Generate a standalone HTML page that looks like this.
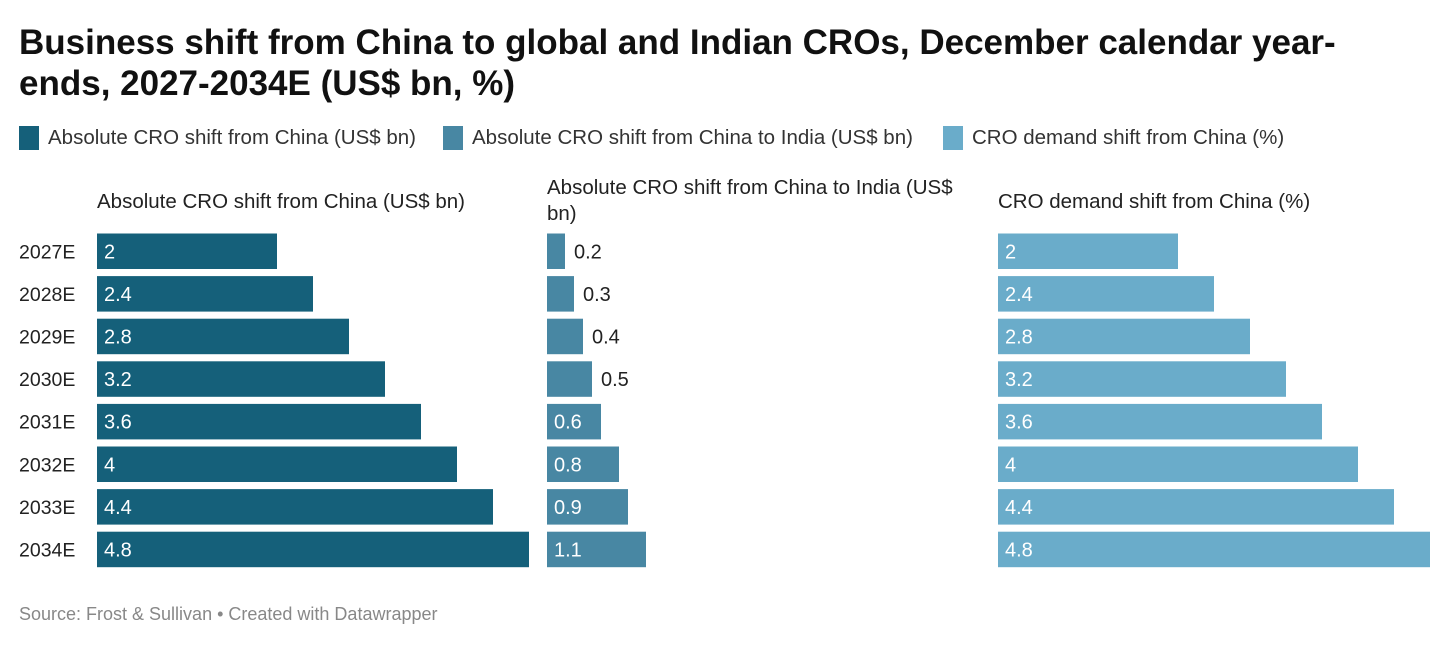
<!DOCTYPE html>
<html><head><meta charset="utf-8"><style>
body{margin:0;width:1456px;height:646px;background:#fff;font-family:"Liberation Sans",Arial,sans-serif;color:#222;position:relative;overflow:hidden}
.t{position:absolute;left:19px;top:22px;width:1400px;font-size:35px;font-weight:bold;line-height:41px;color:#111}
.lg{position:absolute;top:126px;font-size:20.5px;color:#333;display:flex;align-items:center}
.lg span.sw{display:inline-block;width:20px;height:24px;margin-right:9px}
.src{position:absolute;left:19px;top:604px;font-size:18px;color:#888}
</style></head><body>
<div class="t">Business shift from China to global and Indian CROs, December calendar year-<br>ends, 2027-2034E (US$ bn, %)</div>
<div class="lg" style="left:19px"><span class="sw" style="background:#15607a"></span>Absolute CRO shift from China (US$ bn)</div>
<div class="lg" style="left:443px"><span class="sw" style="background:#4887a3"></span>Absolute CRO shift from China to India (US$ bn)</div>
<div class="lg" style="left:943px"><span class="sw" style="background:#6aacca"></span>CRO demand shift from China (%)</div>
<svg id="c" width="1456" height="646" style="position:absolute;left:0;top:0"></svg>
<div class="src">Source: Frost &amp; Sullivan • Created with Datawrapper</div>
<script>
const years=["2027E","2028E","2029E","2030E","2031E","2032E","2033E","2034E"];
const chinaShift=[2,2.4,2.8,3.2,3.6,4,4.4,4.8];
const indiaShift=[0.2,0.3,0.4,0.5,0.6,0.8,0.9,1.1];
const demandShift=[2,2.4,2.8,3.2,3.6,4,4.4,4.8];
const panelTitles=["Absolute CRO shift from China (US$ bn)","Absolute CRO shift from China to India (US$","CRO demand shift from China (%)"];
const NS="http://www.w3.org/2000/svg";
const svg=document.getElementById('c');
function y(i){return 233.5+i*42.6;}
const bh=35.5;
function t(x,yy,s,fill,size,name){const e=document.createElementNS(NS,'text');e.setAttribute('x',x);e.setAttribute('y',yy);e.setAttribute('fill',fill);e.setAttribute('font-size',size);e.setAttribute('font-family','Liberation Sans, Arial, sans-serif');e.textContent=s;


svg.appendChild(e);return e;}
years.forEach((yr,i)=>t(19,y(i)+bh/2+7,yr,'#222',19.5,'row-label'));
const panels=[{x0:97,ppu:90,data:chinaShift,col:'#15607a',thr:0},{x0:547,ppu:90,data:indiaShift,col:'#4887a3',thr:0.55},{x0:998,ppu:90,data:demandShift,col:'#6aacca',thr:0}];
panels.forEach((p,k)=>{
 t(p.x0,k==1?194:208,panelTitles[k],'#222',20.5,'panel-title');
 if(k==1)t(p.x0,220,'bn)','#222',20.5,'panel-title-cont');
 p.data.forEach((v,i)=>{
  const w=v*p.ppu;const r=document.createElementNS(NS,'rect');
  r.setAttribute('x',p.x0);r.setAttribute('y',y(i));r.setAttribute('width',w);r.setAttribute('height',bh);r.setAttribute('fill',p.col);
  
  
  svg.appendChild(r);
  const inside=v>p.thr;
  t(inside?p.x0+7:p.x0+w+9,y(i)+bh/2+7,String(v),inside?'#fff':'#222',20,'value-label');
 });
});
</script>
</body></html>
